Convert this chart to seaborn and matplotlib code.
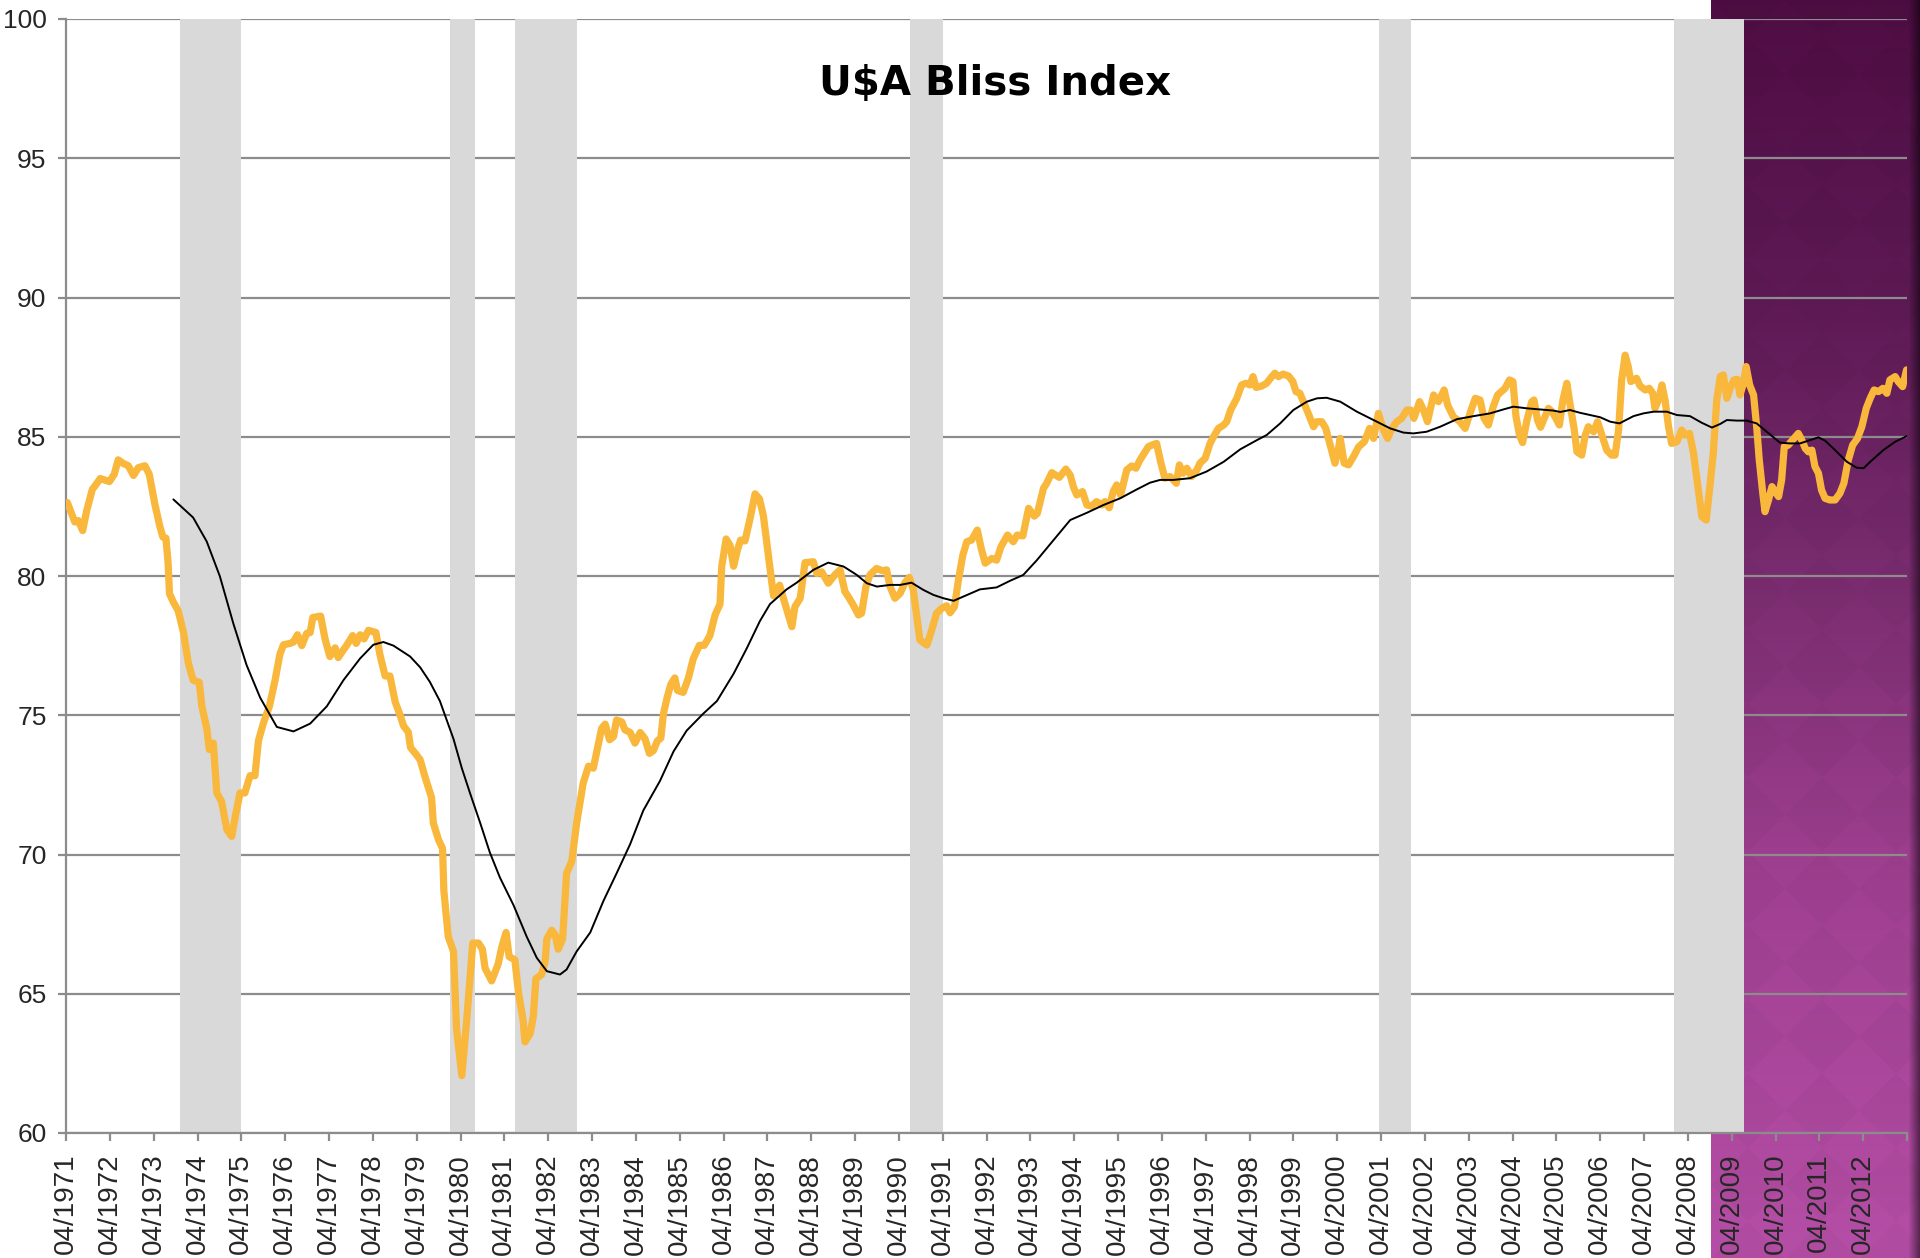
import numpy as np
import pandas as pd
import matplotlib
matplotlib.use("Agg")
import matplotlib.pyplot as plt
from matplotlib.colors import to_rgb
import seaborn as sns

# ---------------------------------------------------------------- data
bliss_year = [
    1971.28, 1971.45, 1971.53, 1971.63, 1971.72, 1971.85, 1971.91, 1972.03, 1972.24, 1972.35,
    1972.44, 1972.56, 1972.67, 1972.79, 1972.90, 1973.05, 1973.15, 1973.28, 1973.39, 1973.46,
    1973.53, 1973.58, 1973.61, 1973.70, 1973.81, 1973.93, 1974.04, 1974.15, 1974.29, 1974.35,
    1974.46, 1974.52, 1974.61, 1974.69, 1974.80, 1974.92, 1975.03, 1975.11, 1975.22, 1975.33,
    1975.45, 1975.56, 1975.64, 1975.75, 1975.89, 1976.02, 1976.13, 1976.21, 1976.36, 1976.44,
    1976.53, 1976.63, 1976.74, 1976.82, 1976.88, 1977.06, 1977.16, 1977.27, 1977.39, 1977.46,
    1977.58, 1977.65, 1977.79, 1977.87, 1977.96, 1978.05, 1978.15, 1978.26, 1978.32, 1978.41,
    1978.53, 1978.64, 1978.76, 1978.87, 1978.95, 1979.06, 1979.11, 1979.23, 1979.33, 1979.44,
    1979.59, 1979.63, 1979.75, 1979.84, 1979.87, 1979.97, 1980.09, 1980.16, 1980.28, 1980.39,
    1980.53, 1980.66, 1980.75, 1980.81, 1980.96, 1981.11, 1981.19, 1981.29, 1981.36, 1981.49,
    1981.57, 1981.68, 1981.72, 1981.84, 1981.91, 1981.97, 1982.10, 1982.18, 1982.22, 1982.33,
    1982.41, 1982.48, 1982.58, 1982.67, 1982.79, 1982.90, 1983.05, 1983.17, 1983.28, 1983.40,
    1983.47, 1983.55, 1983.65, 1983.74, 1983.81, 1983.93, 1984.00, 1984.12, 1984.23, 1984.35,
    1984.46, 1984.56, 1984.65, 1984.74, 1984.82, 1984.88, 1984.97, 1985.05, 1985.14, 1985.20,
    1985.33, 1985.45, 1985.56, 1985.70, 1985.81, 1985.94, 1986.06, 1986.17, 1986.21, 1986.31,
    1986.40, 1986.48, 1986.57, 1986.64, 1986.74, 1986.86, 1986.97, 1987.07, 1987.16, 1987.27,
    1987.39, 1987.53, 1987.65, 1987.81, 1987.88, 1988.00, 1988.11, 1988.30, 1988.38, 1988.49,
    1988.64, 1988.79, 1988.91, 1989.02, 1989.12, 1989.23, 1989.33, 1989.40, 1989.50, 1989.59,
    1989.74, 1989.88, 1989.97, 1990.05, 1990.16, 1990.28, 1990.39, 1990.49, 1990.58, 1990.67,
    1990.73, 1990.89, 1991.00, 1991.11, 1991.23, 1991.34, 1991.42, 1991.52, 1991.61, 1991.71,
    1991.80, 1991.91, 1992.04, 1992.13, 1992.22, 1992.37, 1992.48, 1992.58, 1992.73, 1992.86,
    1992.95, 1993.08, 1993.21, 1993.34, 1993.41, 1993.55, 1993.62, 1993.74, 1993.91, 1994.06,
    1994.16, 1994.23, 1994.31, 1994.44, 1994.54, 1994.65, 1994.76, 1994.88, 1994.95, 1995.05,
    1995.14, 1995.22, 1995.31, 1995.45, 1995.56, 1995.66, 1995.75, 1995.94, 1996.02, 1996.13,
    1996.23, 1996.32, 1996.44, 1996.58, 1996.65, 1996.73, 1996.82, 1996.93, 1997.05, 1997.12,
    1997.24, 1997.35, 1997.43, 1997.54, 1997.66, 1997.73, 1997.82, 1997.96, 1998.07, 1998.17,
    1998.26, 1998.33, 1998.40, 1998.53, 1998.64, 1998.76, 1998.83, 1998.91, 1999.02, 1999.14,
    1999.24, 1999.31, 1999.40, 1999.48, 1999.59, 1999.71, 1999.78, 1999.90, 1999.99, 2000.09,
    2000.20, 2000.28, 2000.32, 2000.41, 2000.51, 2000.62, 2000.74, 2000.87, 2000.99, 2001.08,
    2001.19, 2001.31, 2001.40, 2001.50, 2001.61, 2001.72, 2001.84, 2001.93, 2002.00, 2002.13,
    2002.22, 2002.31, 2002.45, 2002.56, 2002.69, 2002.77, 2002.90, 2003.05, 2003.17, 2003.28,
    2003.40, 2003.51, 2003.60, 2003.70, 2003.81, 2003.91, 2004.08, 2004.18, 2004.26, 2004.33,
    2004.41, 2004.48, 2004.58, 2004.69, 2004.74, 2004.82, 2004.89, 2004.99, 2005.07, 2005.15,
    2005.22, 2005.32, 2005.40, 2005.49, 2005.56, 2005.66, 2005.72, 2005.83, 2005.91, 2005.98,
    2006.10, 2006.19, 2006.29, 2006.40, 2006.51, 2006.59, 2006.67, 2006.74, 2006.82, 2006.89,
    2006.95, 2007.01, 2007.08, 2007.16, 2007.28, 2007.37, 2007.45, 2007.50, 2007.58, 2007.66,
    2007.73, 2007.81, 2007.88, 2008.00, 2008.11, 2008.19, 2008.29, 2008.38, 2008.47, 2008.57,
    2008.67, 2008.76, 2008.83, 2008.91, 2008.99, 2009.06, 2009.14, 2009.23, 2009.30, 2009.38,
    2009.44, 2009.52, 2009.58, 2009.66, 2009.75, 2009.82, 2009.88, 2009.96, 2010.01, 2010.09,
    2010.17, 2010.24, 2010.32, 2010.39, 2010.45, 2010.54, 2010.64, 2010.77, 2010.85, 2010.93,
    2011.00, 2011.08, 2011.15, 2011.23, 2011.30, 2011.38, 2011.49, 2011.61, 2011.72, 2011.81,
    2011.91, 2012.01, 2012.12, 2012.22, 2012.32, 2012.41, 2012.50, 2012.60, 2012.70, 2012.79,
    2012.86, 2012.98, 2013.05, 2013.15, 2013.24,
]
bliss_value = [
    82.64, 81.94, 81.99, 81.63, 82.33, 83.11, 83.23, 83.50, 83.39, 83.65,
    84.17, 84.04, 83.96, 83.61, 83.89, 83.96, 83.65, 82.56, 81.79, 81.40,
    81.36, 80.46, 79.37, 79.06, 78.75, 77.97, 76.88, 76.26, 76.18, 75.32,
    74.54, 73.77, 74.00, 72.21, 71.90, 70.89, 70.65, 71.35, 72.21, 72.21,
    72.83, 72.83, 74.08, 74.70, 75.32, 76.26, 77.19, 77.53, 77.58, 77.63,
    77.89, 77.50, 77.94, 77.97, 78.51, 78.56, 77.74, 77.11, 77.42, 77.07,
    77.35, 77.50, 77.86, 77.58, 77.89, 77.74, 78.05, 78.00, 77.97, 77.19,
    76.41, 76.41, 75.48, 75.01, 74.62, 74.39, 73.84, 73.61, 73.40, 72.79,
    72.04, 71.13, 70.52, 70.22, 68.71, 67.05, 66.52, 63.73, 62.06, 64.03,
    66.82, 66.82, 66.60, 65.92, 65.46, 66.07, 66.67, 67.20, 66.33, 66.22,
    65.08, 64.03, 63.27, 63.57, 64.18, 65.54, 65.69, 66.14, 66.97, 67.28,
    67.12, 66.60, 66.97, 69.32, 69.77, 71.13, 72.57, 73.17, 73.10, 74.00,
    74.53, 74.68, 74.12, 74.23, 74.83, 74.76, 74.48, 74.38, 74.00, 74.38,
    74.15, 73.63, 73.73, 74.08, 74.18, 75.06, 75.67, 76.12, 76.34, 75.89,
    75.82, 76.34, 77.03, 77.51, 77.51, 77.86, 78.61, 78.99, 80.35, 81.33,
    81.10, 80.35, 80.95, 81.29, 81.26, 82.09, 82.95, 82.77, 82.16, 80.80,
    79.29, 79.67, 79.02, 78.18, 78.90, 79.20, 80.48, 80.51, 80.09, 80.15,
    79.74, 80.04, 80.22, 79.44, 79.20, 78.90, 78.60, 78.66, 79.62, 80.04,
    80.27, 80.19, 80.22, 79.62, 79.20, 79.38, 79.76, 79.95, 79.50, 78.42,
    77.70, 77.52, 78.06, 78.66, 78.84, 78.93, 78.68, 78.90, 79.86, 80.75,
    81.23, 81.29, 81.65, 80.99, 80.46, 80.63, 80.57, 81.05, 81.47, 81.23,
    81.47, 81.44, 82.43, 82.15, 82.25, 83.15, 83.32, 83.71, 83.54, 83.84,
    83.62, 83.21, 82.91, 83.03, 82.55, 82.51, 82.67, 82.55, 82.67, 82.45,
    83.03, 83.27, 82.91, 83.81, 83.95, 83.87, 84.16, 84.64, 84.70, 84.76,
    84.05, 83.51, 83.57, 83.33, 83.99, 83.69, 83.87, 83.57, 83.81, 84.05,
    84.23, 84.76, 85.00, 85.30, 85.42, 85.54, 85.96, 86.38, 86.86, 86.92,
    86.86, 87.16, 86.77, 86.82, 86.92, 87.16, 87.28, 87.16, 87.25, 87.18,
    86.98, 86.62, 86.56, 86.26, 85.84, 85.36, 85.54, 85.54, 85.30, 84.70,
    84.05, 84.58, 84.94, 84.05, 83.99, 84.28, 84.64, 84.82, 85.30, 84.94,
    85.84, 85.24, 84.94, 85.30, 85.54, 85.66, 85.96, 85.96, 85.66, 86.26,
    85.96, 85.54, 86.50, 86.26, 86.68, 86.14, 85.72, 85.54, 85.30, 85.84,
    86.38, 86.32, 85.66, 85.42, 86.08, 86.50, 86.74, 87.04, 86.98, 85.72,
    85.06, 84.79, 85.60, 86.26, 86.32, 85.60, 85.34, 85.72, 86.02, 85.90,
    85.72, 85.42, 86.32, 86.92, 86.20, 85.24, 84.46, 84.34, 85.06, 85.36,
    85.18, 85.54, 85.06, 84.52, 84.34, 84.34, 85.24, 87.04, 87.93, 87.52,
    86.98, 87.04, 87.10, 86.82, 86.68, 86.74, 86.56, 86.02, 86.32, 86.86,
    86.32, 85.36, 84.76, 84.82, 85.24, 85.06, 85.12, 84.40, 83.33, 82.13,
    82.01, 83.33, 84.40, 86.32, 87.16, 87.22, 86.38, 86.80, 87.04, 87.06,
    86.50, 86.92, 87.52, 86.86, 86.50, 85.36, 84.16, 82.97, 82.31, 82.73,
    83.21, 83.03, 82.85, 83.45, 84.64, 84.70, 84.88, 85.12, 84.88, 84.58,
    84.46, 84.52, 83.93, 83.69, 83.09, 82.79, 82.73, 82.73, 82.97, 83.33,
    84.16, 84.70, 84.94, 85.36, 86.02, 86.38, 86.68, 86.62, 86.74, 86.56,
    87.04, 87.16, 86.98, 86.80, 87.40,
]

trend_year = [
    1973.70, 1974.15, 1974.46, 1974.76, 1975.07, 1975.37, 1975.68, 1976.06, 1976.44, 1976.82,
    1977.20, 1977.58, 1977.96, 1978.26, 1978.49, 1978.72, 1979.10, 1979.33, 1979.55, 1979.78,
    1980.09, 1980.28, 1980.47, 1980.70, 1980.92, 1981.15, 1981.46, 1981.76, 1981.99, 1982.22,
    1982.52, 1982.67, 1982.90, 1983.21, 1983.51, 1983.81, 1984.12, 1984.42, 1984.80, 1985.11,
    1985.41, 1985.79, 1986.10, 1986.48, 1986.78, 1987.08, 1987.31, 1987.69, 1987.92, 1988.30,
    1988.64, 1988.99, 1989.29, 1989.52, 1989.75, 1990.05, 1990.28, 1990.54, 1990.81, 1991.04,
    1991.27, 1991.50, 1991.72, 1992.10, 1992.48, 1992.79, 1993.09, 1993.40, 1993.78, 1994.16,
    1994.54, 1994.92, 1995.30, 1995.68, 1995.98, 1996.21, 1996.51, 1996.89, 1997.27, 1997.66,
    1998.04, 1998.42, 1998.64, 1998.95, 1999.25, 1999.56, 1999.79, 2000.01, 2000.32, 2000.70,
    2001.08, 2001.46, 2001.76, 2001.99, 2002.29, 2002.60, 2002.98, 2003.36, 2003.74, 2004.04,
    2004.27, 2004.58, 2004.88, 2005.18, 2005.34, 2005.56, 2005.79, 2006.02, 2006.25, 2006.48,
    2006.69, 2006.86, 2007.01, 2007.24, 2007.47, 2007.77, 2008.00, 2008.30, 2008.57, 2008.80,
    2008.99, 2009.14, 2009.37, 2009.59, 2009.82, 2010.05, 2010.35, 2010.58, 2010.81, 2011.04,
    2011.23, 2011.38, 2011.57, 2011.88, 2012.10, 2012.26, 2012.41, 2012.71, 2012.98, 2013.24,
]
trend_value = [
    82.75, 82.10, 81.24, 79.99, 78.28, 76.80, 75.63, 74.58, 74.42, 74.70,
    75.32, 76.26, 77.04, 77.53, 77.63, 77.50, 77.11, 76.72, 76.20, 75.51,
    74.15, 73.10, 72.19, 71.13, 70.07, 69.17, 68.18, 67.05, 66.29, 65.81,
    65.69, 65.87, 66.52, 67.20, 68.33, 69.32, 70.37, 71.58, 72.64, 73.70,
    74.45, 75.06, 75.51, 76.49, 77.40, 78.38, 78.99, 79.52, 79.76, 80.22,
    80.48, 80.34, 80.04, 79.74, 79.62, 79.68, 79.68, 79.76, 79.50, 79.32,
    79.20, 79.11, 79.26, 79.52, 79.59, 79.83, 80.04, 80.57, 81.29, 82.01,
    82.27, 82.55, 82.79, 83.11, 83.35, 83.45, 83.45, 83.51, 83.75, 84.10,
    84.55, 84.88, 85.06, 85.48, 85.96, 86.26, 86.38, 86.40, 86.26, 85.90,
    85.60, 85.30, 85.15, 85.12, 85.18, 85.36, 85.63, 85.74, 85.84, 85.98,
    86.08, 86.02, 85.98, 85.94, 85.89, 85.96, 85.86, 85.78, 85.70, 85.54,
    85.48, 85.62, 85.74, 85.84, 85.90, 85.90, 85.78, 85.74, 85.50, 85.33,
    85.46, 85.60, 85.58, 85.58, 85.48, 85.18, 84.79, 84.76, 84.76, 84.88,
    84.98, 84.86, 84.58, 84.10, 83.89, 83.87, 84.10, 84.52, 84.82, 85.02,
]

# recession periods (decimal years, start / end)
recession_start = [1973.85, 1980.00, 1981.50, 1990.51, 2001.20, 2007.94]
recession_end = [1975.24, 1980.58, 1982.91, 1991.26, 2001.94, 2009.53]

tick_years = list(range(1971, 2014))
tick_labels = [f"04/{y}" for y in range(1971, 2013)] + [""]
y_ticks = [60, 65, 70, 75, 80, 85, 90, 95, 100]

bliss_df = pd.DataFrame({"year": bliss_year, "value": bliss_value})
trend_df = pd.DataFrame({"year": trend_year, "value": trend_value})

# ---------------------------------------------------------------- style
sns.set_theme(style="white")
plt.rcParams["font.family"] = ["Liberation Sans", "DejaVu Sans"]

W, H = 1920, 1258
fig = plt.figure(figsize=(W / 100, H / 100), dpi=100)
fig.patch.set_facecolor("white")

# purple slide background on the right-hand side
bg_x0 = 1711
bg = fig.add_axes([bg_x0 / W, 0, (W - bg_x0) / W, 1])
bg.set_zorder(0)
bw, bh = W - bg_x0, H
stops_pos = [0.0, 0.25, 0.45, 0.70, 1.0]
stops_col = [to_rgb(c) for c in ["#4D0D42", "#5E1A55", "#772B6D", "#9E3F8F", "#B34DA4"]]
t = np.linspace(0, 1, bh)
col = np.stack([np.interp(t, stops_pos, [c[i] for c in stops_col]) for i in range(3)], axis=1)
img = np.repeat(col[:, None, :], bw, axis=1)
yy, xx = np.mgrid[0:bh, 0:bw]
size = 74.0
u = np.floor((xx + yy) / size)
v = np.floor((xx - yy) / size)
checker = ((u + v) % 2) * 2 - 1
img = img * (1 + 0.014 * checker[..., None])
shade = np.clip((xx - (bw - 12)) / 12.0, 0, 1)
img = img * (1 - 0.55 * shade[..., None])
bg.imshow(np.clip(img, 0, 1), aspect="auto", extent=[0, 1, 0, 1], interpolation="bilinear")
bg.axis("off")

# main chart area
ax = fig.add_axes([66 / W, 1 - 1133 / H, 1841 / W, 1114 / H])
ax.set_zorder(1)
ax.patch.set_alpha(0)

grey = "#8C8C8C"
ax.set_axisbelow(True)
ax.grid(axis="y", color=grey, linewidth=1.6)
ax.grid(axis="x", visible=False)

for s, e in zip(recession_start, recession_end):
    ax.axvspan(s, e, color="#D9D9D9", linewidth=0, zorder=1)

sns.lineplot(data=bliss_df, x="year", y="value", ax=ax, color="#F9B73B",
             linewidth=5.2, estimator=None, sort=False, zorder=3,
             solid_joinstyle="round", solid_capstyle="round")
sns.lineplot(data=trend_df, x="year", y="value", ax=ax, color="black",
             linewidth=1.4, estimator=None, sort=False, zorder=4,
             solid_joinstyle="round")

ax.set_xlim(1971.25, 2013.25)
ax.set_ylim(60, 100)
ax.set_xticks([y + 0.25 for y in tick_years])
ax.set_xticklabels(tick_labels, rotation=90, fontsize=20)
ax.set_yticks(y_ticks)
ax.set_yticklabels([str(v) for v in y_ticks], fontsize=19)
ax.set_xlabel("")
ax.set_ylabel("")

for side in ["top", "right"]:
    ax.spines[side].set_visible(False)
for side in ["left", "bottom"]:
    ax.spines[side].set_color(grey)
    ax.spines[side].set_linewidth(1.6)
    ax.spines[side].set_zorder(2)

ax.tick_params(axis="x", direction="out", length=6, width=1.6, color=grey, pad=9, bottom=True)
ax.tick_params(axis="y", direction="out", length=6, width=1.6, color=grey, pad=8, left=True)

fig.text(995 / W, 1 - 84 / H, "U$A Bliss Index", ha="center", va="center",
         fontsize=29, fontweight="bold", family=["DejaVu Sans"], color="black")

fig.savefig("out.png", dpi=100)
